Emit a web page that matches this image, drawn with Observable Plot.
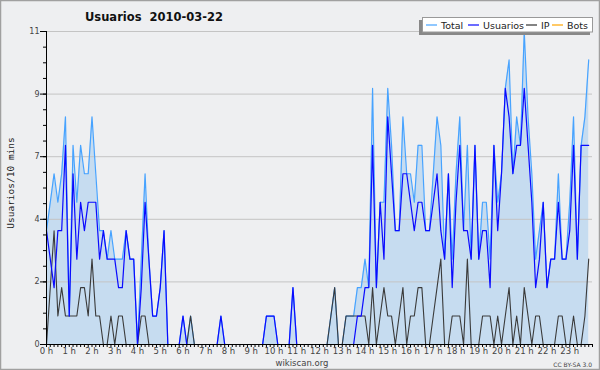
<!DOCTYPE html>
<html><head><meta charset="utf-8">
<script src="https://cdn.jsdelivr.net/npm/d3@7"></script>
<script src="https://cdn.jsdelivr.net/npm/@observablehq/plot@0.6"></script>
<style>html,body{margin:0;padding:0;background:#eeeff1}svg{display:block}</style>
</head><body><div id="chart"></div>
<script>
// 10-minute slots, 144 per day
const total = [
 4,5,6,5,6,8,1,7,5,7,6,6,8,6,4,4,3,4,3,3,3,4,3,3,
 0,3,6,3,1,1,2,4,0,0,0,0,1,0,1,0,0,0,0,0,0,0,1,0,
 0,0,0,0,0,0,0,0,0,0,1,1,1,0,0,0,0,2,0,0,0,0,0,0,
 0,0,0,1,2,0,0,1,1,1,2,2,3,2,9,2,5,5,9,7,4,4,8,6,
 6,5,7,7,4,4,6,8,7,3,6,3,6,8,4,7,3,7,3,5,5,3,7,5,
 6,9,10,6,8,7,11,8,6,3,4,5,2,3,3,6,3,3,5,8,3,7,8,10
];
const usuarios = [
 4,3,2,4,4,7,1,6,3,5,4,5,5,5,3,4,3,3,3,2,2,4,3,3,
 0,2,5,3,1,1,2,4,0,0,0,0,1,0,0,0,0,0,0,0,0,0,1,0,
 0,0,0,0,0,0,0,0,0,0,1,1,1,0,0,0,0,2,0,0,0,0,0,0,
 0,0,0,0,0,0,0,0,0,0,1,1,2,2,7,2,5,3,8,6,4,4,6,6,
 5,4,5,5,4,4,5,6,4,3,6,2,5,7,4,4,3,7,3,4,4,2,7,4,
 6,9,8,6,7,7,9,7,5,2,3,5,2,3,3,5,3,3,4,7,3,7,7,7
];
const ip = [
 0,2,4,1,2,1,1,1,1,2,2,1,3,1,1,0,0,1,0,1,1,0,0,0,
 0,1,1,0,0,0,0,0,0,0,0,0,0,0,1,0,0,0,0,0,0,0,0,0,
 0,0,0,0,0,0,0,0,0,0,0,0,0,0,0,0,0,0,0,0,0,0,0,0,
 0,0,0,1,2,0,0,1,1,1,1,1,1,0,2,0,1,2,1,1,0,1,2,0,
 1,1,2,2,0,0,1,2,3,0,0,1,1,1,0,3,0,0,0,1,1,1,0,1,
 0,1,2,0,1,0,2,1,0,1,1,0,0,0,0,1,1,0,0,1,0,0,1,3
];
const hourLabels = ["0 h","1 h","2 h","3 h","4 h","5 h","6 h","7 h","8 h","9 h","10 h","11 h",
 "12 h","13 h","14 h","15 h","16 h","17 h","18 h","19 h","20 h","21 h","22 h","23 h"];
const yMajor = [0, 2.2, 4.4, 6.6, 8.8, 11];
const legendItems = ["Total", "Usuarios", "IP", "Bots"];
const legendColors = ["#47a3ff", "#0a0aff", "#333333", "#ffa500"];

const data = total.map((t, i) => ({i, total: t, usuarios: usuarios[i], ip: ip[i]}));
const yMinor = d3.range(21).map(k => k * 0.55);
const xMinor = d3.range(145);
const hourTicks = hourLabels.map((_, h) => h * 6);

const chart = Plot.plot({
  width: 600, height: 370,
  marginLeft: 46, marginRight: 8, marginTop: 31, marginBottom: 26,
  style: {background: "#eeeff1", fontFamily: "DejaVu Sans", fontSize: "8px", color: "#333"},
  x: {domain: [0, 144], label: null},
  y: {domain: [0, 11], label: null},
  marks: [
    Plot.areaY(data, {x: "i", y: "total", fill: "#c6dcf0"}),
    Plot.ruleY(yMajor.slice(1), {stroke: "#c4c4c4", strokeWidth: 1}),
    Plot.lineY(data, {x: "i", y: "total", stroke: "#47a3ff", strokeWidth: 1.2}),
    Plot.lineY(data, {x: "i", y: "ip", stroke: "#3a3a3a", strokeWidth: 1.1}),
    Plot.lineY(data, {x: "i", y: "usuarios", stroke: "#0a0aff", strokeWidth: 1.2}),
    Plot.axisY({ticks: yMinor, tickSize: 3, fill: "none", stroke: "#000", label: null}),
    Plot.axisY({ticks: yMajor, tickSize: 6, tickPadding: 1, tickFormat: d => String(Math.round(d)), stroke: "#000", fill: "#444", fontSize: 8, label: null}),
    Plot.axisX({ticks: xMinor, tickSize: 3, fill: "none", stroke: "#000", label: null}),
    Plot.axisX({ticks: hourTicks, tickSize: 0, tickPadding: 3, tickFormat: d => hourLabels[Math.round(d / 6)], fill: "#444", fontSize: 8.5, label: null}),
    Plot.ruleX([0], {stroke: "#000"}),
    Plot.ruleY([0], {stroke: "#000"})
  ]
});

const svg = d3.select(chart);
// frame border
svg.append("rect").attr("x", 0.5).attr("y", 0.5).attr("width", 599).attr("height", 369)
  .attr("fill", "none").attr("stroke", "#a0a0a0").attr("stroke-width", 1.5);
// title
svg.append("text").attr("x", 85).attr("y", 21).attr("text-anchor", "start").attr("font-family", "DejaVu Sans")
  .attr("font-weight", "bold").attr("font-size", 11.5).attr("fill", "#111")
  .style("white-space", "pre").text("Usuarios  2010-03-22");
// y label
svg.append("text").attr("transform", "translate(14,183) rotate(-90)")
  .attr("text-anchor", "middle").attr("font-family", "DejaVu Sans Mono").attr("font-size", 9.5)
  .attr("fill", "#222").text("Usuarios/10 mins");
// footer
svg.append("text").attr("x", 302).attr("y", 366).attr("text-anchor", "middle")
  .attr("font-family", "DejaVu Sans").attr("font-size", 8.5).attr("fill", "#444").text("wikiscan.org");
svg.append("text").attr("x", 592).attr("y", 367).attr("text-anchor", "end")
  .attr("font-family", "DejaVu Sans").attr("font-size", 6).attr("fill", "#444").text("CC BY-SA 3.0");
// legend
const lg = svg.append("g");
lg.append("rect").attr("x", 419).attr("y", 20).attr("width", 171).attr("height", 15).attr("fill", "#888");
lg.append("rect").attr("x", 422.5).attr("y", 17.5).attr("width", 170).attr("height", 14.5)
  .attr("fill", "#fff").attr("stroke", "#999");
const lx = [426, 468, 526, 552];
legendItems.forEach((name, k) => {
  lg.append("line").attr("x1", lx[k]).attr("x2", lx[k] + 11).attr("y1", 25).attr("y2", 25)
    .attr("stroke", legendColors[k]).attr("stroke-width", 1.2);
  lg.append("text").attr("x", lx[k] + 15).attr("y", 28.5).attr("text-anchor", "start").attr("font-family", "DejaVu Sans")
    .attr("font-size", 9.5).attr("fill", "#222").text(name);
});
document.getElementById("chart").appendChild(chart);
</script>
</body></html>
